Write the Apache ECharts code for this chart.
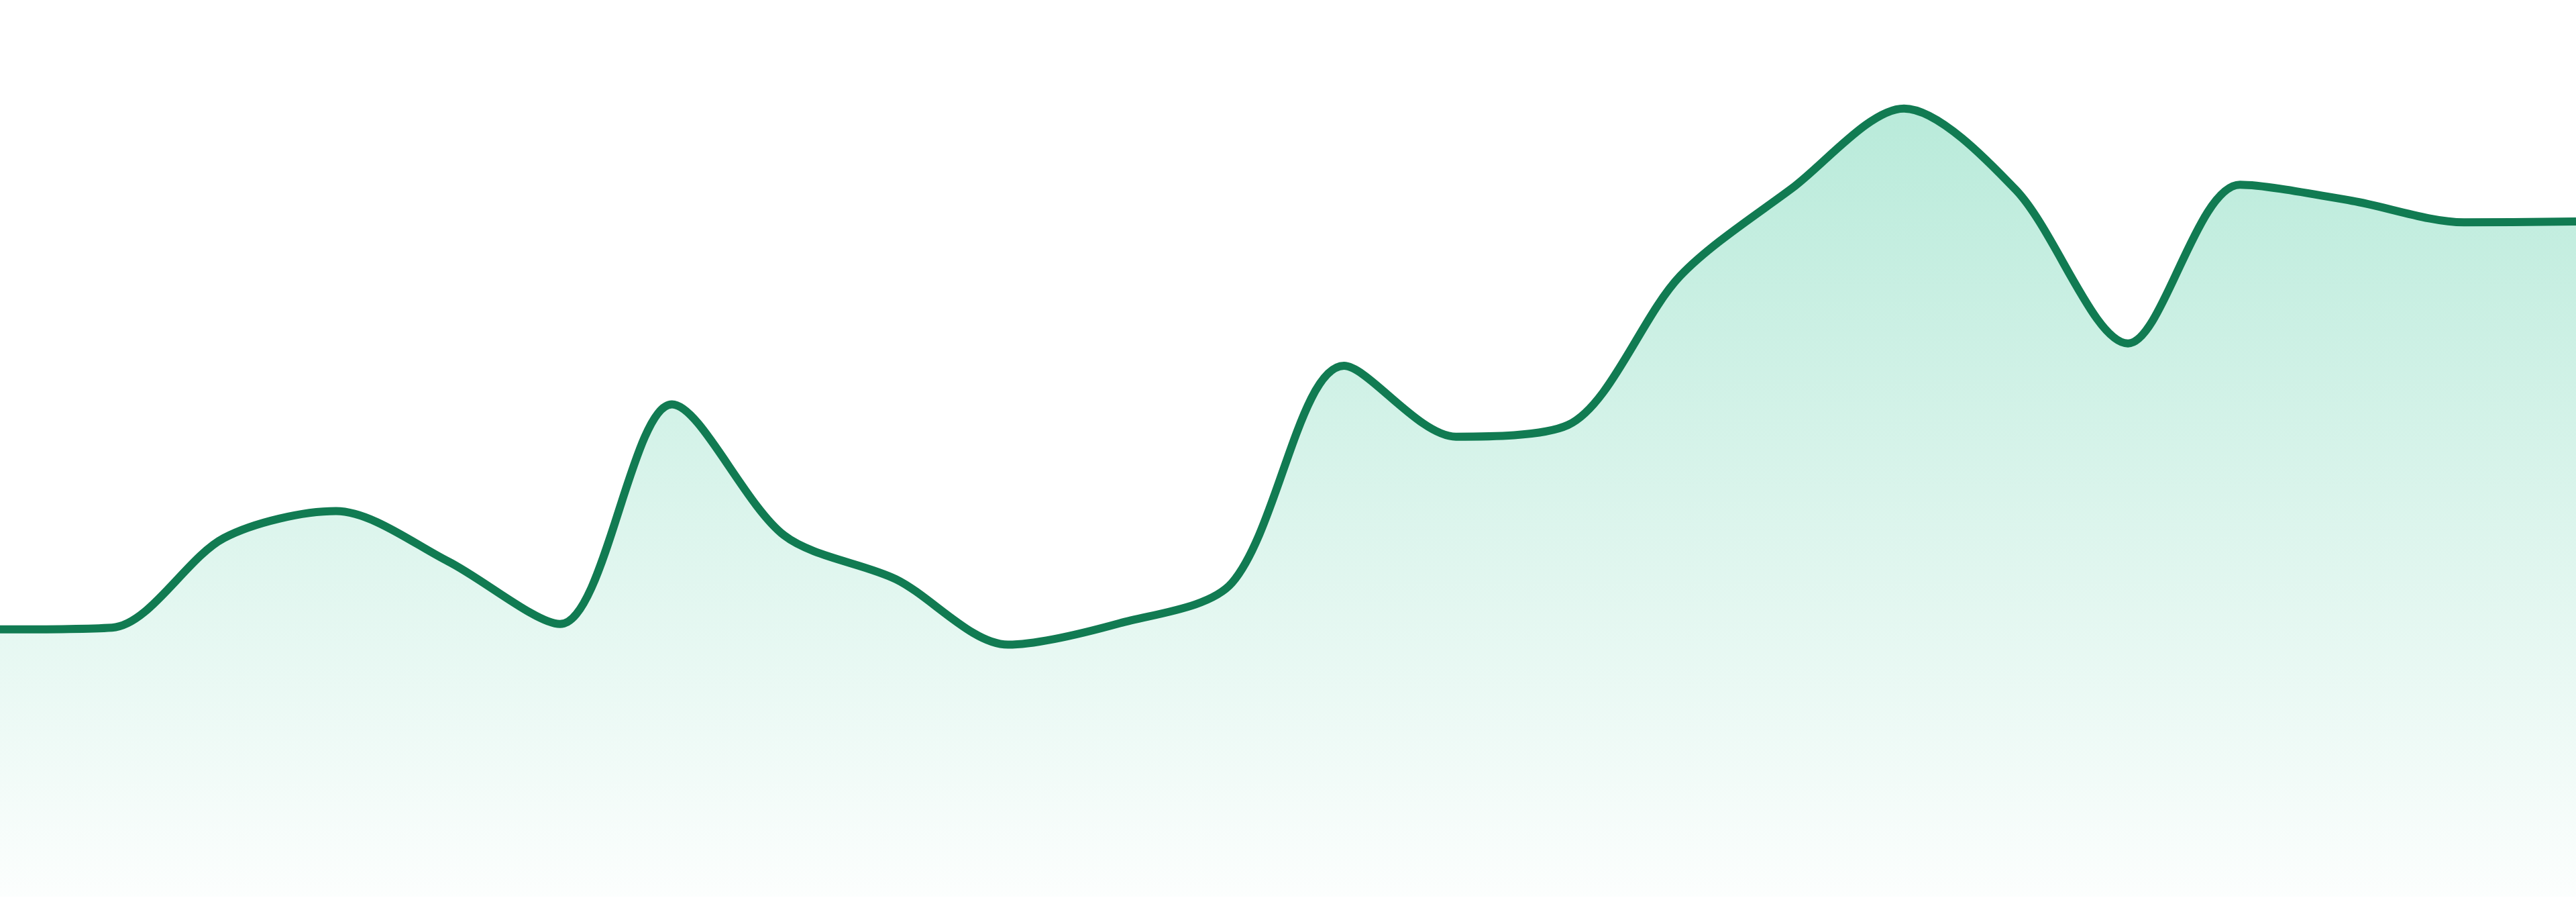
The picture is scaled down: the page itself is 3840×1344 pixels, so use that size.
<!DOCTYPE html>
<html>
<head>
<meta charset="utf-8">
<script src="https://cdn.jsdelivr.net/npm/echarts@6/dist/echarts.min.js"></script>
<style>
html,body{margin:0;padding:0;background:#ffffff;}
#chart{width:3840px;height:1344px;}
</style>
</head>
<body>
<div id="chart"></div>
<script>
const categories = ['1','2','3','4','5','6','7','8','9','10','11','12','13','14','15','16','17','18','19','20','21','22','23','24'];
const values = [29.8, 30.0, 40.0, 43.0, 37.4, 30.4, 54.9, 40.3, 35.4, 28.1, 30.5, 35.0, 59.2, 51.3, 52.6, 69.2, 79.0, 87.9, 78.8, 61.7, 79.4, 77.6, 75.2, 75.3];
const yMin = 0;
const yMax = 100;

const chart = echarts.init(document.getElementById('chart'), null, {renderer: 'canvas'});
chart.setOption({
  animation: false,
  backgroundColor: '#ffffff',
  grid: {left: 0, right: 0, top: 0, bottom: 8, containLabel: false},
  xAxis: {
    type: 'category',
    data: categories,
    boundaryGap: false,
    show: false
  },
  yAxis: {
    type: 'value',
    min: yMin,
    max: yMax,
    show: false,
    splitLine: {show: false}
  },
  series: [{
    type: 'line',
    data: values,
    smooth: 0.3,
    symbol: 'none',
    lineStyle: {color: '#117b52', width: 12},
    areaStyle: {
      color: new echarts.graphic.LinearGradient(0, 0, 0, 1, [
        {offset: 0, color: 'rgba(16,185,129,0.42)'},
        {offset: 1, color: 'rgba(16,185,129,0.02)'}
      ])
    }
  }]
});
</script>
</body>
</html>
